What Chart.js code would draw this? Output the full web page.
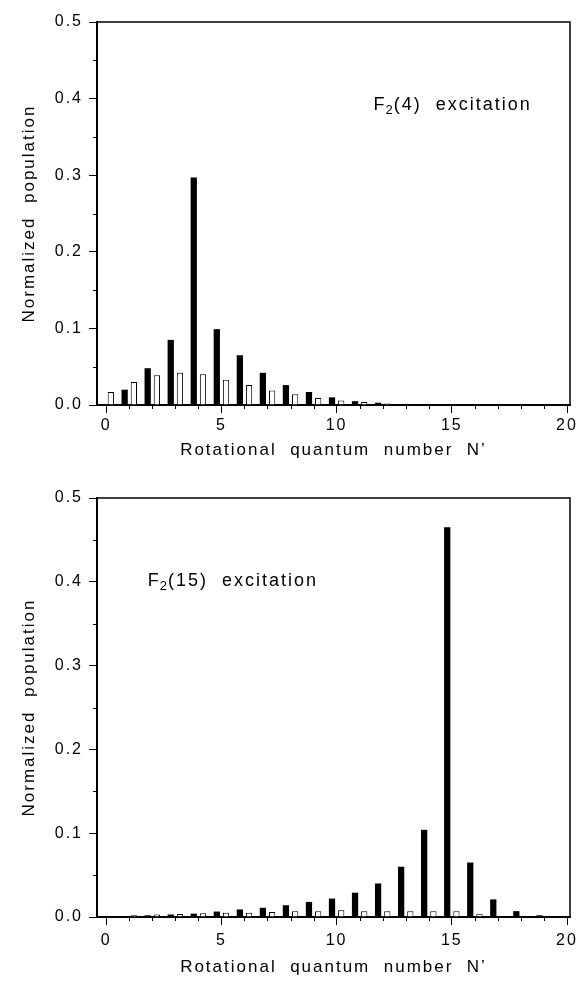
<!DOCTYPE html>
<html>
<head>
<meta charset="utf-8">
<script src="https://cdn.jsdelivr.net/npm/chart.js@4/dist/chart.umd.min.js"></script>
<style>
  html, body { margin: 0; padding: 0; background: #fff; }
  #wrap { position: relative; width: 584px; height: 988px; }
  .panel { position: absolute; left: 0; width: 584px; }
</style>
</head>
<body>
<div id="wrap">
  <div class="panel" style="top:0;height:470px"><canvas id="top"></canvas></div>
  <div class="panel" style="top:470px;height:518px"><canvas id="bottom"></canvas></div>
</div>
<script>
// Rotational quantum number N'
const rotN = [0, 1, 2, 3, 4, 5, 6, 7, 8, 9, 10, 11, 12, 13, 14, 15, 16, 17, 18, 19, 20];

// F2(4) excitation: filled and open bars
const f4Filled = [null, 0.020, 0.048, 0.085, 0.297, 0.099, 0.065, 0.042, 0.026, 0.017, 0.010, 0.005, 0.003, 0.001, 0.001, null, null, null, null, null, null];
const f4Open   = [0.017, 0.030, 0.039, 0.042, 0.040, 0.033, 0.026, 0.019, 0.014, 0.009, 0.006, 0.004, 0.002, 0.001, null, null, null, null, null, null, null];

// F2(15) excitation: filled and open bars
const f15Filled = [0.001, 0.001, 0.002, 0.003, 0.004, 0.0065, 0.009, 0.011, 0.014, 0.018, 0.022, 0.029, 0.040, 0.060, 0.104, 0.465, 0.065, 0.021, 0.007, 0.002, null];
const f15Open   = [0.001, 0.002, 0.003, 0.0035, 0.0045, 0.005, 0.005, 0.006, 0.007, 0.007, 0.008, 0.007, 0.007, 0.007, 0.007, 0.007, 0.004, 0.001, 0.001, null, null];

// Axis ticks
const xMajor = [0, 5, 10, 15, 20];
const xMinor = [1, 2, 3, 4, 6, 7, 8, 9, 11, 12, 13, 14, 16, 17, 18, 19];
const yMajor = [0, 0.1, 0.2, 0.3, 0.4, 0.5];
const yMinor = [0.05, 0.15, 0.25, 0.35, 0.45];

const FONT = "'Liberation Sans', Arial, sans-serif";

// Frame, minor ticks and the in-plot excitation label
const framePlugin = {
  id: 'frameAndLabel',
  beforeDraw(chart) {
    chart.ctx.letterSpacing = '2px';
  },
  afterDraw(chart, args, opts) {
    const { ctx, chartArea: a, scales } = chart;
    ctx.save();
    ctx.strokeStyle = '#000';
    ctx.lineWidth = 1.5;
    ctx.beginPath();
    ctx.moveTo(a.left, a.top);
    ctx.lineTo(a.right, a.top);
    ctx.lineTo(a.right, a.bottom);
    ctx.stroke();

    ctx.lineWidth = 1;
    ctx.beginPath();
    for (const v of yMinor) {
      const p = Math.round(scales.y.getPixelForValue(v)) + 0.5;
      ctx.moveTo(a.left - 4, p);
      ctx.lineTo(a.left, p);
    }
    for (const v of xMinor) {
      const p = Math.round(scales.x.getPixelForValue(v)) + 0.5;
      ctx.moveTo(p, a.bottom);
      ctx.lineTo(p, a.bottom + 4);
    }
    ctx.stroke();

    // "F2(n)  excitation" with subscript 2
    const x0 = scales.x.getPixelForValue(opts.at[0]);
    const y0 = scales.y.getPixelForValue(opts.at[1]);
    ctx.fillStyle = '#000';
    ctx.textBaseline = 'alphabetic';
    ctx.textAlign = 'left';
    ctx.letterSpacing = '2px';
    ctx.font = '18px ' + FONT;
    ctx.fillText('F', x0, y0);
    let x = x0 + ctx.measureText('F').width - 1;
    ctx.font = '13px ' + FONT;
    ctx.fillText('2', x, y0 + 4);
    x += ctx.measureText('2').width - 1;
    ctx.font = '18px ' + FONT;
    ctx.fillText(opts.rest, x, y0);
    ctx.restore();
  }
};

function makeChart(id, filled, open, opts) {
  const pts = arr => rotN.map((n, i) => ({ x: n, y: arr[i] }));
  return new Chart(document.getElementById(id), {
    type: 'bar',
    data: {
      datasets: [
        { data: pts(filled), backgroundColor: '#000', borderWidth: 0,
          categoryPercentage: 0.8, barPercentage: 0.68 },
        { data: pts(open), backgroundColor: '#fff', borderColor: '#000', borderWidth: 1,
          categoryPercentage: 0.8, barPercentage: 0.68 }
      ]
    },
    options: {
      responsive: true,
      maintainAspectRatio: false,
      animation: false,
      layout: { padding: { top: opts.padTop, right: 14, left: 0, bottom: 0 } },
      plugins: {
        legend: { display: false },
        tooltip: { enabled: false },
        frameAndLabel: { at: opts.labelAt, rest: opts.labelRest }
      },
      scales: {
        x: {
          type: 'linear',
          offset: false,
          min: -0.4,
          max: 20.13,
          afterBuildTicks: s => { s.ticks = xMajor.map(v => ({ value: v })); },
          afterFit: s => { s.height = opts.xHeight; },
          grid: { offset: false, drawOnChartArea: false, tickLength: 8, tickColor: '#000', tickWidth: 1 },
          border: { color: '#000', width: 2 },
          ticks: { color: '#000', font: { family: FONT, size: 16 }, padding: opts.xTickPad, maxRotation: 0,
                   callback: v => String(v) },
          title: { display: true, text: 'Rotational  quantum  number  N’', color: '#000',
                   font: { family: FONT, size: 17 }, padding: { top: 0, bottom: opts.xTitlePad } }
        },
        y: {
          min: 0,
          max: 0.5,
          afterBuildTicks: s => { s.ticks = yMajor.map(v => ({ value: v })); },
          afterFit: s => { s.width = 97; },
          grid: { drawOnChartArea: false, tickLength: 8, tickColor: '#000', tickWidth: 1 },
          border: { color: '#000', width: 2 },
          ticks: { color: '#000', font: { family: FONT, size: 16 }, padding: 6,
                   callback: v => v.toFixed(1) },
          title: { display: true, text: 'Normalized  population', color: '#000',
                   font: { family: FONT, size: 17 }, padding: { top: 19, bottom: 0 } }
        }
      }
    },
    plugins: [framePlugin]
  });
}

makeChart('top', f4Filled, f4Open, {
  padTop: 22, xHeight: 65, xTitlePad: 9, xTickPad: 3,
  labelAt: [11.6, 0.385], labelRest: '(4)  excitation'
});
makeChart('bottom', f15Filled, f15Open, {
  padTop: 28, xHeight: 71, xTitlePad: 10, xTickPad: 6,
  labelAt: [1.8, 0.395], labelRest: '(15)  excitation'
});
</script>
</body>
</html>
